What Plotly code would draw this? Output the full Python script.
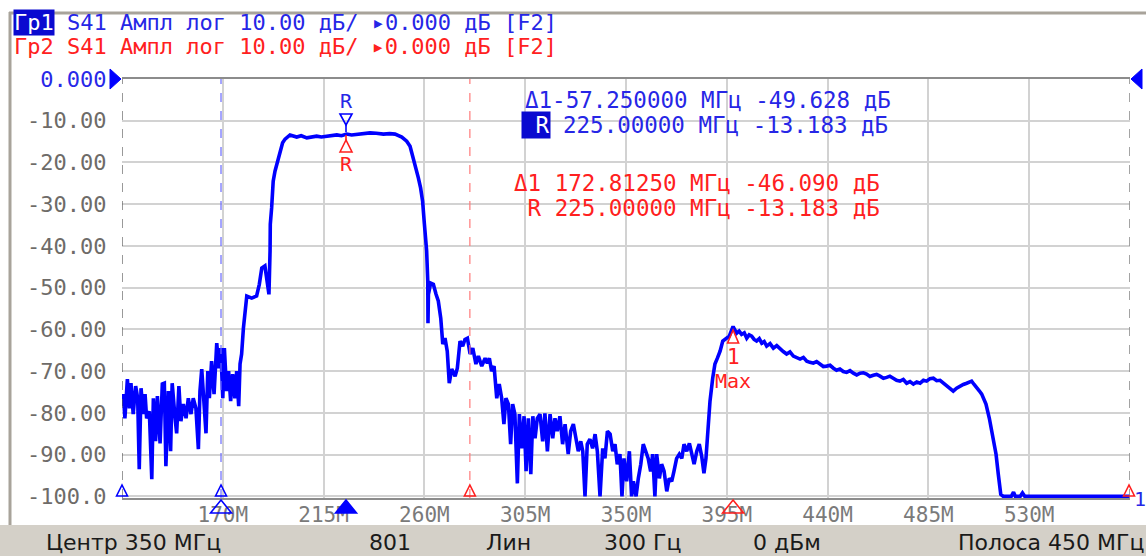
import plotly.graph_objects as go

# ---------------- data ----------------
freq_mhz = [
    125.0, 125.6, 126.3, 127.4, 128.3, 129.0, 130.0, 131.1, 132.0, 132.7, 133.5, 134.5, 135.3, 136.0,
    137.2, 138.3, 139.0, 140.0, 140.8, 142.0, 143.0, 143.9, 144.6, 145.7, 146.7, 147.4, 148.7, 149.4,
    150.4, 151.3, 152.4, 153.6, 154.6, 155.8, 156.8, 158.0, 159.1, 159.8, 160.6, 161.6, 162.5, 163.3,
    164.0, 165.0, 166.1, 167.3, 168.2, 169.1, 170.0, 170.7, 171.7, 172.6, 173.5, 174.4, 175.4, 176.2,
    177.1, 177.7, 178.4, 179.2, 179.9, 180.7, 182.9, 185.1, 186.3, 187.4, 188.8, 189.9, 190.6, 191.1,
    191.2, 191.8, 192.5, 193.3, 194.3, 195.5, 196.7, 197.8, 200.0, 203.0, 205.0, 207.5, 210.0, 211.9,
    214.0, 216.4, 218.5, 220.9, 223.0, 225.3, 227.5, 229.8, 232.5, 235.7, 238.5, 241.7, 244.5, 246.9,
    249.9, 252.1, 253.6, 254.8, 256.3, 257.3, 258.3, 259.2, 260.0, 261.0, 261.5, 261.6, 261.8, 262.8,
    264.0, 265.2, 266.2, 267.3, 268.2, 269.2, 270.2, 271.1, 272.2, 273.7, 274.7, 275.9, 277.1, 278.1,
    279.2, 280.4, 281.6, 283.0, 284.1, 285.6, 287.1, 288.1, 289.0, 290.0, 291.1, 292.3, 293.4, 294.5,
    295.5, 296.4, 297.5, 298.5, 299.4, 300.4, 301.5, 302.4, 303.4, 304.5, 305.4, 306.4, 307.5, 308.4,
    309.4, 310.4, 311.6, 312.8, 313.8, 314.9, 316.1, 317.3, 318.3, 319.3, 320.5, 321.7, 322.8, 324.2,
    325.3, 326.5, 327.7, 328.7, 329.8, 330.7, 331.7, 332.7, 333.9, 335.1, 336.2, 337.2, 338.4, 339.6,
    340.6, 341.7, 342.9, 344.1, 345.1, 346.1, 347.3, 348.2, 349.1, 350.3, 351.5, 352.5, 353.3, 354.5,
    355.5, 356.6, 357.7, 358.9, 359.9, 361.0, 361.9, 362.9, 363.7, 364.9, 365.9, 367.0, 368.2, 369.3,
    370.4, 371.4, 372.6, 373.8, 374.9, 375.9, 377.1, 378.3, 379.3, 380.4, 381.6, 382.7, 383.8, 384.8,
    385.7, 386.7, 387.5, 388.7, 389.7, 390.8, 392.0, 393.2, 394.6, 396.1, 397.8, 399.4, 400.5, 401.6,
    402.8, 403.9, 405.0, 406.1, 407.2, 408.3, 409.5, 410.6, 411.7, 412.8, 414.3, 415.8, 417.3, 418.8,
    420.2, 421.7, 423.2, 424.7, 426.2, 427.7, 429.2, 430.7, 432.1, 433.6, 435.1, 436.6, 438.1, 439.6,
    441.1, 442.6, 444.0, 445.5, 447.0, 448.5, 450.0, 451.5, 453.0, 454.5, 456.0, 457.4, 458.9, 460.4,
    461.9, 463.4, 464.9, 466.4, 467.8, 469.3, 470.8, 472.3, 473.8, 475.3, 476.8, 478.3, 479.8, 481.3,
    482.8, 484.2, 485.7, 487.2, 488.7, 490.2, 491.7, 493.2, 494.7, 496.1, 497.6, 499.1, 500.6, 502.1,
    503.2, 504.3, 505.4, 506.5, 507.7, 508.8, 510.7, 512.2, 513.7, 515.2, 516.2, 517.3, 518.4, 522.0,
    523.0, 523.8, 526.0, 527.0, 528.0, 575.0,
]
s41_db = [
    -78.4, -75.5, -81.3, -71.9, -78.9, -72.9, -80.3, -73.6, -76.5, -93.5, -74.1, -80.3, -75.5, -81.3,
    -79.6, -95.9, -76.5, -86.8, -76.0, -87.3, -73.1, -72.9, -92.8, -74.8, -89.2, -72.9, -81.3, -84.9,
    -73.6, -82.0, -77.9, -81.3, -76.5, -80.3, -76.5, -78.9, -88.7, -74.8, -69.5, -76.5, -84.9, -70.0,
    -76.5, -67.6, -75.5, -63.3, -69.3, -64.5, -76.5, -64.5, -74.8, -70.0, -77.2, -70.7, -76.5, -70.0,
    -78.4, -68.3, -65.9, -59.7, -56.1, -52.0, -52.5, -52.0, -49.2, -45.3, -44.8, -48.4, -51.6, -41.2,
    -34.8, -30.9, -24.5, -22.1, -20.1, -17.3, -15.3, -14.4, -13.4, -13.9, -13.6, -14.1, -13.8, -13.7,
    -13.9, -13.7, -13.5, -13.4, -13.6, -13.2, -13.4, -13.2, -13.0, -12.9, -13.0, -13.2, -13.1, -13.2,
    -13.9, -14.9, -16.1, -18.5, -20.9, -23.7, -26.1, -29.3, -34.8, -41.2, -48.4, -58.5, -51.6, -48.9,
    -49.2, -51.6, -53.2, -57.3, -63.5, -62.1, -65.2, -72.9, -69.5, -71.2, -69.3, -62.8, -64.0, -62.4,
    -62.1, -65.9, -64.5, -68.3, -66.4, -68.8, -66.9, -68.1, -66.9, -70.0, -68.8, -76.5, -73.1, -76.5,
    -82.7, -76.5, -77.9, -87.5, -77.9, -80.3, -96.9, -80.3, -88.5, -80.8, -94.0, -81.3, -94.7, -80.8,
    -86.1, -81.3, -80.3, -86.8, -80.1, -89.2, -80.3, -86.1, -81.3, -84.4, -80.8, -87.5, -82.7, -89.9,
    -84.4, -82.7, -86.1, -89.2, -86.8, -89.2, -100.0, -87.5, -86.3, -88.5, -85.1, -89.2, -100.0, -88.5,
    -90.9, -84.4, -85.1, -89.2, -87.5, -92.3, -89.9, -100.0, -90.9, -96.4, -89.2, -100.0, -96.4, -100.0,
    -95.7, -92.3, -87.5, -89.2, -90.9, -94.0, -89.9, -100.0, -89.9, -95.7, -92.3, -94.0, -98.8, -95.7,
    -96.4, -94.0, -90.9, -89.9, -90.9, -87.5, -89.2, -87.3, -89.7, -92.3, -89.2, -87.5, -90.4, -94.5,
    -90.9, -83.7, -77.2, -71.7, -68.3, -66.9, -65.2, -62.8, -62.1, -61.6, -59.3, -60.9, -60.4, -61.2,
    -60.8, -62.1, -61.3, -61.6, -62.4, -62.8, -62.2, -63.3, -62.9, -64.0, -63.4, -64.5, -63.9, -64.7,
    -65.3, -65.9, -65.4, -66.4, -66.8, -67.1, -66.7, -67.6, -67.9, -68.1, -67.7, -68.3, -68.9, -68.8,
    -68.6, -69.3, -69.8, -69.5, -70.1, -70.3, -69.9, -70.5, -70.9, -70.5, -70.4, -70.7, -71.3, -71.0,
    -70.8, -71.2, -71.7, -71.5, -71.2, -71.7, -72.2, -72.4, -72.0, -72.9, -72.5, -73.1, -72.6, -72.9,
    -72.2, -72.4, -71.8, -71.7, -72.3, -72.2, -72.9, -73.6, -74.3, -74.8, -74.1, -73.6, -73.2, -72.9,
    -72.6, -72.4, -73.2, -74.1, -74.7, -75.5, -77.9, -81.3, -85.1, -89.9, -94.7, -99.5, -100.0, -100.0,
    -99.0, -100.0, -100.0, -99.2, -100.0, -100.0,
]

x_ticks = [170, 215, 260, 305, 350, 395, 440, 485, 530]
x_tick_labels = ["170M", "215M", "260M", "305M", "350M", "395M", "440M", "485M", "530M"]
y_ticks = [0, -10, -20, -30, -40, -50, -60, -70, -80, -90, -100]
y_tick_labels = ["0.000", "-10.00", "-20.00", "-30.00", "-40.00", "-50.00",
                 "-60.00", "-70.00", "-80.00", "-90.00", "-100.0"]

header_1 = "S41 Ампл лог 10.00 дБ/ ▸0.000 дБ [F2]"
header_2 = "Гр2 S41 Ампл лог 10.00 дБ/ ▸0.000 дБ [F2]"
readout_blue = ["Δ1-57.250000 МГц -49.628 дБ", "225.00000 МГц -13.183 дБ"]
readout_red = ["Δ1 172.81250 МГц -46.090 дБ", " R 225.00000 МГц -13.183 дБ"]
status_items = [("Центр 350 МГц", 45, "left"), ("801", 368, "left"), ("Лин", 485, "left"),
                ("300 Гц", 603, "left"), ("0 дБм", 752, "left"), ("Полоса 450 МГц", 1145, "right")]

f_start, f_stop = 125.0, 575.0
ref_marker_f = 225.0
max_marker_f = 397.8
blue_range_f = 169.2
red_range_f = 280.3

# ---------------- layout helpers ----------------
W, H = 1146, 556
L, R, T, B = 122, 1130, 79, 498
def px(x):
    return (x - L) / (R - L)
def py(y):
    return (B - y) / (B - T)
def fx(f):
    return (f - f_start) / (f_stop - f_start)

BLUE = "#0000ff"
TBLUE = "#2626e6"
RED = "#ff2020"
MONO = "DejaVu Sans Mono"

fig = go.Figure()
fig.add_trace(go.Scatter(x=freq_mhz, y=s41_db, mode="lines",
                         line=dict(color=BLUE, width=3.6), hoverinfo="skip"))

shapes = []
def tri(xc, y_apex, y_base, hw, color, filled=False, width=1.6):
    h = hw / (R - L)
    path = "M {a},{b} L {c},{d} L {e},{b} Z".format(
        a=xc - h, b=py(y_base), c=xc, d=py(y_apex), e=xc + h)
    shapes.append(dict(type="path", xref="paper", yref="paper", path=path, layer="above",
                       fillcolor=color if filled else "rgba(0,0,0,0)",
                       line=dict(color=color, width=width)))
def tri_h(x_apex, x_base, yc, hh, color):
    h = hh / (B - T)
    path = "M {a},{b} L {c},{d} L {a},{e} Z".format(
        a=px(x_base), b=py(yc) + h, c=px(x_apex), d=py(yc), e=py(yc) - h)
    shapes.append(dict(type="path", xref="paper", yref="paper", path=path, layer="above",
                       fillcolor=color, line=dict(color=color, width=1)))
def vline_px(xc, y0, y1, color, width=1.6):
    shapes.append(dict(type="line", xref="paper", yref="paper", x0=xc, x1=xc,
                       y0=py(y0), y1=py(y1), line=dict(color=color, width=width), layer="above"))

# dashed range lines
for f, col in [(f_start, "#555555"), (blue_range_f, "#6a6aff"), (red_range_f, "#ff7a7a"),
               (f_stop - 0.1, "#909090")]:
    shapes.append(dict(type="line", xref="x", yref="paper", x0=f, x1=f, y0=0, y1=1,
                       line=dict(color=col, width=1.2, dash="dash")))

# bottom stimulus markers (small ones on the axis, large ones below it)
tri(fx(f_start), 485, 496, 5.5, BLUE)
tri(fx(blue_range_f), 485, 496, 5.5, BLUE)
tri(fx(red_range_f), 485, 496, 5.5, RED)
tri(fx(f_stop) - 1 / (R - L), 485, 496, 5.5, RED)
tri(fx(blue_range_f), 500, 513, 10.5, BLUE)
tri(fx(ref_marker_f), 500, 513, 10.5, BLUE, filled=True)
tri(fx(max_marker_f), 500, 513, 10.5, RED)
# reference marker R on both traces and marker 1 (Max)
tri(fx(ref_marker_f), 125, 114, 6, BLUE)
vline_px(fx(ref_marker_f), 125, 132, BLUE)
tri(fx(ref_marker_f), 140, 152, 6, RED)
vline_px(fx(ref_marker_f), 135, 140, RED)
tri(fx(max_marker_f), 330, 343, 5.5, RED)
# reference level arrows
tri_h(121, 110, 79, 10, BLUE)
tri_h(1131, 1142, 79, 10, BLUE)

# window frame
shapes.append(dict(type="rect", xref="paper", yref="paper", x0=px(0), x1=px(W),
                   y0=py(525), y1=py(H), fillcolor="#d4d0c8", line=dict(width=0), layer="below"))
shapes.append(dict(type="line", xref="paper", yref="paper", x0=px(9), x1=px(W),
                   y0=py(13), y1=py(13), line=dict(color="#a8a39a", width=3)))
shapes.append(dict(type="line", xref="paper", yref="paper", x0=px(10), x1=px(10),
                   y0=py(12), y1=py(525), line=dict(color="#a8a39a", width=3)))

ann = []
def text(x, y, s, color, size=22, font=MONO, bg=None, xanchor="left", xref="paper", yref="paper"):
    d = dict(x=x, y=y, xref=xref, yref=yref, text=s, showarrow=False, xanchor=xanchor,
             yanchor="middle", font=dict(family=font, size=size, color=color), borderpad=0)
    if bg:
        d["bgcolor"] = bg
    ann.append(d)

# header lines
text(px(13), py(23), "Гр1", "#ffffff", bg="#0a0ad0")
text(px(66), py(23), header_1, TBLUE)
text(px(13), py(47), header_2, RED)
# marker readouts
text(px(524), py(100), readout_blue[0], TBLUE, size=22.5)
text(px(521), py(125), " R", "#ffffff", size=22.5, bg="#0a0ad0")
text(px(562), py(125), readout_blue[1], TBLUE, size=22.5)
text(px(513), py(183), readout_red[0], RED, size=22.5)
text(px(513), py(208), readout_red[1], RED, size=22.5)
# marker labels
text(fx(ref_marker_f), py(101), "R", TBLUE, size=20, xanchor="center")
text(fx(ref_marker_f), py(164), "R", RED, size=20, xanchor="center")
text(fx(max_marker_f), py(357), "1", RED, size=21, xanchor="center")
text(fx(max_marker_f), py(381), "Max", RED, size=20, xanchor="center")
text(px(1140), py(499), "1", TBLUE, size=20, xanchor="center")
# status bar
for s, x, anchor in status_items:
    text(px(x), py(542), s, "#1a1a1a", size=22, font="DejaVu Sans", xanchor=anchor)

y_text = ["<span style='color:#2828e8'>" + y_tick_labels[0] + "</span>"] + y_tick_labels[1:]

fig.update_layout(
    width=W, height=H, autosize=False,
    margin=dict(l=L, r=W - R, t=T, b=H - B, pad=0, autoexpand=False),
    paper_bgcolor="white", plot_bgcolor="white", showlegend=False,
    shapes=shapes, annotations=ann,
    xaxis=dict(range=[f_start, f_stop], tickvals=x_ticks, ticktext=x_tick_labels, automargin=False,
               showgrid=True, gridcolor="#d2d2d2", gridwidth=2, zeroline=False,
               showline=True, linecolor="#8c8c8c", linewidth=2, mirror=True,
               ticks="", ticklabelstandoff=-3,
               tickfont=dict(family=MONO, size=21, color="#7a7a7a")),
    yaxis=dict(range=[-100.4, 0], tickvals=y_ticks, ticktext=y_text, automargin=False,
               showgrid=True, gridcolor="#d2d2d2", gridwidth=2, zeroline=False,
               showline=False, ticks="outside", ticklen=10, tickcolor="rgba(0,0,0,0)",
               tickfont=dict(family=MONO, size=22, color="#6e6b68")),
)

fig.write_html("out.html", config={"displayModeBar": False},
               post_script="document.body.style.margin='0';document.body.style.overflow='hidden';")
